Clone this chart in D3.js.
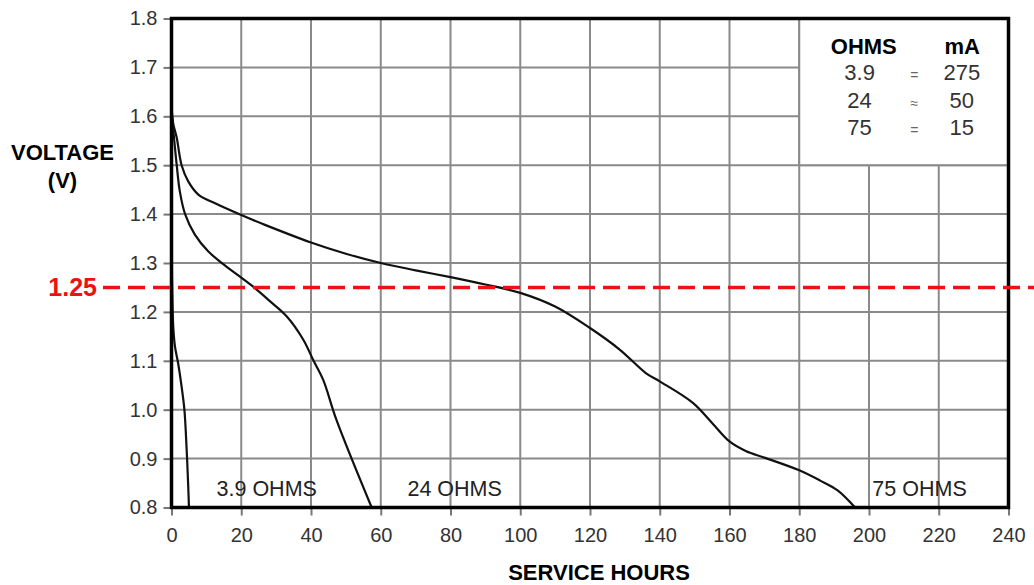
<!DOCTYPE html>
<html>
<head>
<meta charset="utf-8">
<script src="https://cdn.jsdelivr.net/npm/d3@7"></script>
<style>
  body { margin: 0; background: #fff; }
  svg text { font-family: "Liberation Sans", Arial, sans-serif; }
</style>
</head>
<body>
<div id="chart"></div>
<script>

// ticks of both axes
var x_ticks = [0, 20, 40, 60, 80, 100, 120, 140, 160, 180, 200, 220, 240]
var y_ticks = [0.8, 0.9, 1.0, 1.1, 1.2, 1.3, 1.4, 1.5, 1.6, 1.7, 1.8]

// discharge curves
var hours_39 = [0, 0.2, 0.5, 1, 1.9, 2.9, 3.7, 4.3, 4.8, 5.0]
var volts_39 = [1.35, 1.25, 1.17, 1.129, 1.095, 1.047, 1.0, 0.925, 0.843, 0.80]

var hours_24 = [0, 0.8, 1.5, 2.4, 3.9, 6.7, 10.5, 15.3, 20, 24, 28.2, 33, 37.8, 40.6, 43.5, 47.3, 57.4]
var volts_24 = [1.61, 1.55, 1.50, 1.446, 1.40, 1.358, 1.324, 1.295, 1.27, 1.248, 1.222, 1.191, 1.143, 1.102, 1.061, 0.979, 0.80]

var hours_75 = [0, 0.5, 1.5, 2.9, 4.8, 7.7, 12.5, 20, 26.8, 40, 50, 60, 70, 80, 90, 100, 110, 120, 128.5, 136, 140, 149.5, 155, 160, 164.8, 170, 180, 186, 191, 196]
var volts_75 = [1.62, 1.585, 1.556, 1.50, 1.467, 1.44, 1.422, 1.398, 1.378, 1.342, 1.319, 1.300, 1.285, 1.271, 1.256, 1.239, 1.211, 1.167, 1.123, 1.075, 1.058, 1.014, 0.973, 0.935, 0.915, 0.902, 0.876, 0.855, 0.835, 0.80]

// legend table
var legend_ohms = ["3.9", "24", "75"]
var legend_sign = ["=", "\u2248", "="]
var legend_ma = ["275", "50", "15"]

// curve labels
var curve_labels = ["3.9 OHMS", "24 OHMS", "75 OHMS"]
var curve_label_hours = [27.3, 81.2, 214.5]

var cutoff = 1.25

var width = 1034, height = 585

var svg = d3.select("#chart").append("svg")
  .attr("width", width)
  .attr("height", height)

var x = d3.scaleLinear().domain([0, 240]).range([171.5, 1008.5])
var y = d3.scaleLinear().domain([0.8, 1.8]).range([507.5, 18.5])

// grid
svg.append("g").selectAll("line")
  .data(x_ticks.slice(1, -1))
  .enter().append("line")
    .attr("x1", function(d){ return x(d) })
    .attr("x2", function(d){ return x(d) })
    .attr("y1", y(1.8))
    .attr("y2", y(0.8))
    .attr("stroke", "#8a8a8a")
    .attr("stroke-width", 2)

svg.append("g").selectAll("line")
  .data(y_ticks.slice(1, -1))
  .enter().append("line")
    .attr("x1", x(0))
    .attr("x2", x(240))
    .attr("y1", function(d){ return y(d) })
    .attr("y2", function(d){ return y(d) })
    .attr("stroke", "#8a8a8a")
    .attr("stroke-width", 2)

// white legend box hides the grid behind it
svg.append("rect")
  .attr("x", x(180))
  .attr("y", y(1.8))
  .attr("width", x(240) - x(180))
  .attr("height", y(1.5) - y(1.8))
  .attr("fill", "#fff")
  .attr("stroke", "#8a8a8a")
  .attr("stroke-width", 2)

// axes (ticks and labels only)
svg.append("g")
  .attr("transform", "translate(0," + y(0.8) + ")")
  .call(d3.axisBottom(x).tickValues(x_ticks).tickSize(8).tickPadding(12).tickFormat(d3.format("d")))
svg.append("g")
  .attr("transform", "translate(" + x(0) + ",0)")
  .call(d3.axisLeft(y).tickValues(y_ticks).tickSize(8).tickPadding(6).tickFormat(d3.format(".1f")))

svg.selectAll(".domain").remove()
svg.selectAll(".tick line").attr("stroke", "#777").attr("stroke-width", 2)
svg.selectAll(".tick text")
  .attr("fill", "#333")
  .style("font-size", "20px")
  .style("font-family", "'Liberation Sans', Arial, sans-serif")

// curves
var line = d3.line()
  .x(function(d){ return x(d[0]) })
  .y(function(d){ return y(d[1]) })
  .curve(d3.curveCatmullRom.alpha(0.5))

var series = [
  d3.zip(hours_39, volts_39),
  d3.zip(hours_24, volts_24),
  d3.zip(hours_75, volts_75)
]

svg.append("g").selectAll("path")
  .data(series)
  .enter().append("path")
    .attr("d", line)
    .attr("fill", "none")
    .attr("stroke", "#111")
    .attr("stroke-width", 2.2)

// plot border
svg.append("rect")
  .attr("x", x(0))
  .attr("y", y(1.8))
  .attr("width", x(240) - x(0))
  .attr("height", y(0.8) - y(1.8))
  .attr("fill", "none")
  .attr("stroke", "#000")
  .attr("stroke-width", 3.5)

// curve labels
svg.append("g").selectAll("text")
  .data(curve_labels)
  .enter().append("text")
    .attr("x", function(d, i){ return x(curve_label_hours[i]) })
    .attr("y", y(0.8) - 12)
    .attr("text-anchor", "middle")
    .attr("fill", "#222")
    .style("font-size", "21.5px")
    .text(function(d){ return d })

// legend
var legend = svg.append("g")
legend.append("text")
  .attr("x", x(198.5)).attr("y", 54)
  .attr("text-anchor", "middle")
  .style("font-size", "22px").style("font-weight", "bold")
  .text("OHMS")
legend.append("text")
  .attr("x", x(226.7)).attr("y", 54)
  .attr("text-anchor", "middle")
  .style("font-size", "22px").style("font-weight", "bold")
  .text("mA")

var rows = legend.selectAll("g.row")
  .data(legend_ohms)
  .enter().append("g")
    .attr("class", "row")
    .attr("transform", function(d, i){ return "translate(0," + (80 + i * 27.5) + ")" })

rows.append("text")
  .attr("x", x(197.3))
  .attr("text-anchor", "middle")
  .attr("fill", "#333")
  .style("font-size", "22px")
  .text(function(d){ return d })
rows.append("text")
  .attr("x", x(213))
  .attr("text-anchor", "middle")
  .attr("fill", "#666")
  .style("font-size", "14px")
  .text(function(d, i){ return legend_sign[i] })
rows.append("text")
  .attr("x", x(226.6))
  .attr("text-anchor", "middle")
  .attr("fill", "#333")
  .style("font-size", "22px")
  .text(function(d, i){ return legend_ma[i] })

// axis titles
svg.append("text")
  .attr("x", 62.5).attr("y", 160)
  .attr("text-anchor", "middle")
  .style("font-size", "22px").style("font-weight", "bold")
  .text("VOLTAGE")
svg.append("text")
  .attr("x", 62.5).attr("y", 188)
  .attr("text-anchor", "middle")
  .style("font-size", "22px").style("font-weight", "bold")
  .text("(V)")
svg.append("text")
  .attr("x", 599).attr("y", 580)
  .attr("text-anchor", "middle")
  .style("font-size", "22px").style("font-weight", "bold")
  .text("SERVICE HOURS")

// 1.25 V cut-off line
svg.append("line")
  .attr("x1", 103)
  .attr("x2", width)
  .attr("y1", y(cutoff))
  .attr("y2", y(cutoff))
  .attr("stroke", "#ee1111")
  .attr("stroke-width", 3.5)
  .attr("stroke-dasharray", "17,8")
svg.append("text")
  .attr("x", 97).attr("y", y(cutoff) + 9)
  .attr("text-anchor", "end")
  .attr("fill", "#ee1111")
  .style("font-size", "25px").style("font-weight", "bold")
  .text(cutoff)

</script>
</body>
</html>
